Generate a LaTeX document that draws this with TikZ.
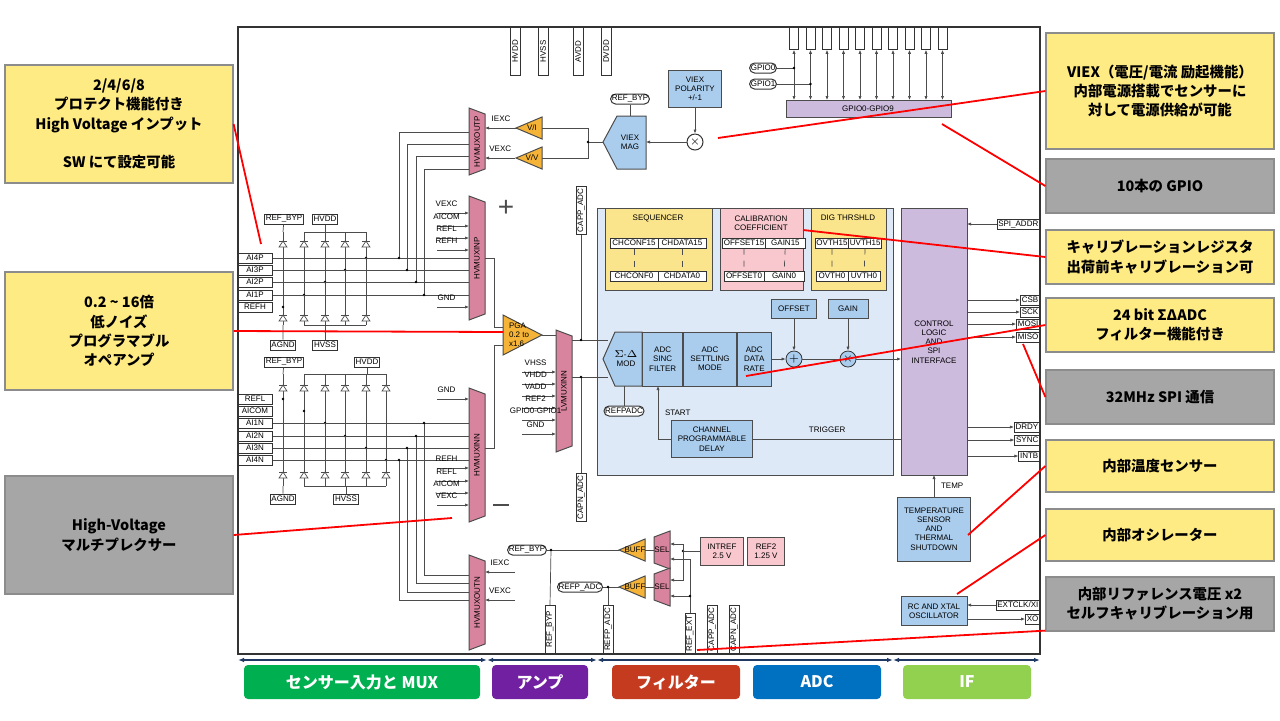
\documentclass[tikz,border=0pt]{standalone}
\usepackage{fontspec}
\setmainfont{Liberation Sans}
\newfontfamily\cjk{Noto Sans CJK JP}
\usetikzlibrary{positioning,arrows.meta}
\definecolor{muxpink}{RGB}{217,132,158}
\definecolor{ampgold}{RGB}{245,180,55}
\definecolor{blkblue}{RGB}{170,205,238}
\definecolor{adcbg}{RGB}{222,233,247}
\definecolor{seqyel}{RGB}{250,228,140}
\definecolor{calpink}{RGB}{248,200,206}
\definecolor{lav}{RGB}{205,187,222}
\definecolor{callyel}{RGB}{255,235,132}
\definecolor{callgray}{RGB}{166,166,166}
\definecolor{navy}{RGB}{31,56,100}
\tikzset{
  every node/.style={font=\fontsize{4}{4.6}\selectfont},
  wire/.style={draw=black!70,line width=0.35pt},
  sig/.style={wire,-{Latex[length=2pt,width=1.6pt]}},
  bisig/.style={wire,{Latex[length=2pt,width=1.6pt]}-{Latex[length=2pt,width=1.6pt]}},
  pin/.style={draw=black!80,fill=white,line width=0.5pt,minimum height=5pt,inner sep=0.6pt},
  vpin/.style={pin,rotate=90,minimum width=24pt},
  pill/.style={pin,rounded corners=2.5pt},
  blk/.style={draw=black!70,fill=blkblue,align=center,line width=0.5pt},
  mux/.style={draw=black!70,fill=muxpink,line width=0.5pt},
  amp/.style={draw=black!70,fill=ampgold,line width=0.5pt},
  muxlbl/.style={rotate=90},
  dot/.style={circle,fill=black,inner sep=0pt,minimum size=1.4pt},
  callout/.style={draw=black!45,line width=0.6pt,align=center,minimum width=114pt,
    font=\cjk\bfseries\fontsize{7.2}{9.6}\selectfont},
  redline/.style={draw=red,line width=0.9pt},
  tag/.style={rounded corners=2pt,minimum height=17pt,text=white,font=\cjk\bfseries\fontsize{8}{9}\selectfont},
  span/.style={draw=navy,line width=1pt,{Latex[length=3pt]}-{Latex[length=3pt]}}
}
% mux trapezoid: name, x, top, bottom, label
\newcommand\muxbox[5]{\draw[mux] (#2,#3) -- (#2+16,#3+6) -- (#2+16,#4-6) -- (#2,#4) -- cycle;
  \node[muxlbl] (#1) at (#2+8,{(#3+#4)/2}) {#5};}
% amplifier pointing left: name, tip x, y, label
\newcommand\ampl[4]{\draw[amp] (#2,#3) -- (#2+26,#3-11) -- (#2+26,#3+11) -- cycle;
  \node (#1) at (#2+16,#3) {#4};}
% diode pointing up
\newcommand\diode[2]{\draw[wire,fill=white] (#1-4,#2+3) -- (#1+4,#2+3) -- (#1,#2-3) -- cycle;
  \draw[wire] (#1-4,#2-3) -- (#1+4,#2-3);}
\begin{document}
\begin{tikzpicture}[x=0.5pt,y=-0.5pt]
  \useasboundingbox (0,0) rectangle (1280,720);
  \fill[white] (0,0) rectangle (1280,720);
  \draw[black!80,line width=0.6pt] (238,27) rectangle (1040,654);

  % supply pins
  \foreach \nm/\x in {HVDD/515,HVSS/543,AVDD/578,DVDD/606}
    \node[vpin,anchor=east] (p\nm) at (\x,27) {\nm};

  % left inputs
  \foreach \nm/\y in {AI4P/258,AI3P/270,AI2P/282,AI1P/295,REFH/307,REFL/399,AICOM/411,AI1N/423,AI2N/436,AI3N/448,AI4N/460}
    \node[pin,minimum width=17pt] (in\nm) at (255,\y) {\nm};

  % protection diodes, positive side
  \node[pin] (bypP) at (284,219) {REF\_BYP};
  \node[pin] (hvddP) at (325,219) {HVDD};
  \node[pin] (agndP) at (283,345) {AGND};
  \node[pin] (hvssP) at (325,345) {HVSS};
  \draw[wire] (304,232) -- (366,232) (304,325) -- (366,325) (hvddP) -- (325,232) (hvssP) -- (325,325);
  \foreach \x in {283,304,325,345,366} {
    \draw[wire] (\x,232) -- (\x,325); \diode{\x}{244} \diode{\x}{318} }
  \draw[wire] (bypP) -- (283,232) (agndP) -- (283,325);
  \foreach \x/\y in {283/307,304/295,325/282,345/270,366/258} \node[dot] at (\x,\y) {};

  % protection diodes, negative side
  \node[pin] (bypN) at (284,362) {REF\_BYP};
  \node[pin] (hvddN) at (367,362) {HVDD};
  \node[pin] (agndN) at (283,499) {AGND};
  \node[pin] (hvssN) at (346,499) {HVSS};
  \draw[wire] (304,374) -- (386,374) (304,486) -- (386,486) (hvddN) -- (367,374) (hvssN) -- (346,486);
  \foreach \x in {283,304,325,345,366,386} {
    \draw[wire] (\x,374) -- (\x,486); \diode{\x}{388} \diode{\x}{475} }
  \draw[wire] (bypN) -- (283,374) (agndN) -- (283,486);
  \foreach \x/\y in {283/399,304/411,325/423,345/436,366/448,386/460} \node[dot] at (\x,\y) {};

  % muxes
  \muxbox{moutp}{469}{108}{175}{HVMUXOUTP}
  \muxbox{minp}{469}{196}{320}{HVMUXINP}
  \muxbox{minn}{469}{388}{522}{HVMUXINN}
  \muxbox{moutn}{469}{555}{650}{HVMUXOUTN}
  \muxbox{lvmux}{556}{330}{452}{LVMUXINN}
  \node[font=\fontsize{14}{14}\selectfont,text=black!70] (plus) at (506,208) {+};
  \draw[black!70,line width=1.2pt] (493,505) -- (509,505);

  % analog inputs to muxes
  \foreach \nm/\y/\x in {AI4P/258/399,AI3P/270/407,AI2P/282/416,AI1P/295/424} {
    \draw[wire] (in\nm) -- (469,\y);
    \draw[wire] (\x,\y) |- (469,\y-126); \node[dot] at (\x,\y) {}; }
  \foreach \nm/\y/\x/\t in {AI1N/423/424/575,AI2N/436/416/583,AI3N/448/407/592,AI4N/460/399/600} {
    \draw[wire] (in\nm) -- (469,\y);
    \draw[wire] (\x,\y) |- (469,\t); \node[dot] at (\x,\y) {}; }
  \foreach \t/\y in {VEXC/213,AICOM/226,REFL/238,REFH/250,GND/307}
    \draw[sig] (437,\y) -- node[above=-0.5pt,pos=0.3] {\t} (469,\y);
  \foreach \t/\y in {GND/399,REFH/468,REFL/481,AICOM/493,VEXC/505}
    \draw[sig] (437,\y) -- node[above=-0.5pt,pos=0.3] {\t} (469,\y);

  % excitation
  \ampl{vi}{516}{128}{V/I}
  \ampl{vv}{516}{158}{V/V}
  \draw[sig] (vi.west) ++(-3,0) -- node[above=-0.5pt] {IEXC} (485,128);
  \draw[sig] (vv.west) ++(-3,0) -- node[above=-0.5pt] {VEXC} (485,158);
  \draw[wire] (542,128) -| (588,158) -- (542,158);
  \draw[blk] (646,116) -- (646,169) -- (617,169) -- (603,142) -- (617,116) -- cycle;
  \node[align=center] (viexmag) at (630,142) {VIEX\\MAG};
  \draw[wire] (588,142) -- (603,142); \node[dot] at (588,142) {};
  \node[blk,minimum width=24pt,minimum height=15pt] (viexpol) at (695,89) {VIEX\\POLARITY\\+/-1};
  \node[draw=black!80,circle,minimum size=8pt,inner sep=0pt,line width=0.5pt] (vmul) at (695,142) {$\times$};
  \node[pill] (bypV) at (630,99) {REF\_BYP};
  \draw[sig] (viexpol) -- (vmul);
  \draw[sig] (vmul) -- (646,142);
  \draw[wire] (bypV) -- (630,116);
  \draw[sig] (515,572) -- node[above=-0.5pt] {IEXC} (485,572);
  \draw[sig] (515,600) -- node[above=-0.5pt] {VEXC} (485,600);

  % PGA and LV mux
  \draw[amp] (503,315) -- (542,335) -- (503,355) -- cycle;
  \node[align=left,anchor=west] (pga) at (502,335) {PGA\\0.2 to\\x1.6};
  \draw[wire] (485,258) -- (494,258) |- (503,327);
  \draw[wire] (485,448) -- (494,448) |- (503,345);
  \draw[wire] (542,335) -- (556,335);
  \foreach \t/\y in {VHSS/372,VHDD/384,VADD/396,REF2/408,GPIO0-GPIO1/420,GND/434}
    \draw[sig] (522,\y) -- node[above=-0.5pt,pos=0.4] {\t} (556,\y);
  \node[vpin,anchor=east] (cappT) at (581,186) {CAPP\_ADC};
  \node[vpin,anchor=west] (capnT) at (581,522) {CAPN\_ADC};

  % ADC region
  \fill[adcbg] (597,208) rectangle (893,475); \draw[black!70,line width=0.5pt] (597,208) rectangle (893,475);
  \draw[black!70,fill=seqyel,line width=0.5pt] (605,208) rectangle (712,290);
  \draw[black!70,fill=calpink,line width=0.5pt] (720,208) rectangle (803,290);
  \draw[black!70,fill=seqyel,line width=0.5pt] (811,208) rectangle (886,290);
  \node (seq) at (658,218) {SEQUENCER};
  \node[align=center] (calib) at (761,223) {CALIBRATION\\COEFFICIENT};
  \node (dig) at (848,218) {DIG THRSHLD};
  \foreach \a/\b/\xa/\xb/\w in {CHCONF/CHDATA/634/683/24, OFFSET/GAIN/744/781/20, OVTH/UVTH/832/864/16} {
    \node[pin,minimum width=\w pt] (\a15) at (\xa,243) {\a15};
    \node[pin,minimum width=\w pt,right=-0.5pt of \a15] (\b15) {\b15};
    \node[pin,minimum width=\w pt] (\a0) at (\xa,276) {\a0};
    \node[pin,minimum width=\w pt,right=-0.5pt of \a0] (\b0) {\b0};
    \draw[wire,dashed] (\a15) -- (\a0) (\b15) -- (\b0); }

  \draw[blk] (642,332) -- (642,386) -- (615,386) -- (603,359) -- (615,332) -- cycle;
  \node[align=center] (sdmod) at (626,359) {$\Sigma$-$\Delta$\\MOD};
  \node[blk,minimum width=16.5pt,minimum height=27pt,right=0pt of sdmod.center,xshift=8pt] (sinc) {ADC\\SINC\\FILTER};
  \node[blk,minimum width=20.5pt,minimum height=27pt,right=0pt of sinc] (settle) {ADC\\SETTLING\\MODE};
  \node[blk,minimum width=16.5pt,minimum height=27pt,right=0pt of settle] (rate) {ADC\\DATA\\RATE};
  \node[blk,minimum width=20pt] (offset) at (794,309) {OFFSET};
  \node[blk,minimum width=20pt] (gain) at (848,309) {GAIN};
  \node[draw=black!80,fill=blkblue,circle,minimum size=8pt,inner sep=0pt] (sum) at (794,359) {$+$};
  \node[draw=black!80,fill=blkblue,circle,minimum size=8pt,inner sep=0pt] (mul) at (848,359) {$\times$};
  \node[pill] (refpadc) at (624,411) {REFPADC};
  \node[blk,minimum width=37pt,minimum height=16pt] (delay) at (712,439) {CHANNEL\\PROGRAMMABLE\\DELAY};
  \draw[wire] (572,340) -- (608,340) (572,377) -- (608,377);
  \draw[wire] (cappT.west) -- (581,340); \node[dot] at (581,340) {};
  \draw[wire] (capnT.east) -- (581,377); \node[dot] at (581,377) {};
  \draw[sig] (rate) -- (sum); \draw[sig] (offset) -- (sum); \draw[sig] (gain) -- (mul);
  \draw[wire] (sum) -- (mul);
  \draw[wire] (refpadc) -- (624,386);
  \draw[sig] (delay.west) -| node[right,pos=0.75] {START} (658,386);

  % control logic and pins
  \draw[black!70,fill=lav,line width=0.5pt] (901,208) rectangle (967,475);
  \node[align=center] (ctrl) at (934,342) {CONTROL\\LOGIC\\AND\\SPI\\INTERFACE};
  \draw[sig] (mul) -- (901,359);
  \draw[wire] (delay.east) -- node[above=-0.5pt] {TRIGGER} (901,439);
  \node[pin,anchor=east] (spiaddr) at (1040,224) {SPI\_ADDR};
  \draw[sig] (spiaddr) -- (967,224);
  \foreach \nm/\y/\s in {CSB/300/in,SCK/312/in,MOSI/324/in,MISO/337/out,DRDY/427/out,SYNC/440/in,INTB/456/out} {
    \node[pin,anchor=east] (p\nm) at (1040,\y) {\nm};
    \if\s in \draw[sig] (p\nm) -- (967,\y); \else \draw[sig] (967,\y) -- (p\nm); \fi }
  \node[blk,minimum width=33pt,minimum height=32pt] (temp) at (934,529) {TEMPERATURE\\SENSOR\\AND\\THERMAL\\SHUTDOWN};
  \draw[sig] (temp) -- node[right] {TEMP} (934,475);
  \node[blk,minimum width=33pt,minimum height=13pt] (osc) at (934,611) {RC AND XTAL\\OSCILLATOR};
  \node[pin,anchor=east] (extclk) at (1040,605) {EXTCLK/XI};
  \node[pin,anchor=east] (xo) at (1040,619) {XO};
  \draw[sig] (extclk) -- (967,605); \draw[sig] (967,619) -- (xo);

  % GPIO
  \draw[black!70,fill=lav,line width=0.5pt] (786,100) rectangle (951,117);
  \node (gpiobus) at (868,109) {GPIO0-GPIO9};
  \foreach \i in {0,...,9} {
    \node[draw=black!80,fill=white,minimum width=4.5pt,minimum height=11pt,inner sep=0pt,anchor=north] (g\i) at (794+16.5*\i,27) {};
    \draw[bisig] (g\i.south) -- (794+16.5*\i,100); }
  \node[pill] (gp0) at (763,68) {GPIO0};
  \node[pill] (gp1) at (763,84) {GPIO1};
  \draw[wire] (gp0) -- (794,68); \node[dot] at (794,68) {};
  \draw[wire] (gp1) -- (810.5,84); \node[dot] at (810.5,84) {};

  % references
  \node[pill] (bypR) at (527,550) {REF\_BYP};
  \node[pill] (refpR) at (580,587) {REFP\_ADC};
  \ampl{buf1}{619}{550}{BUFF}
  \ampl{buf2}{619}{587}{BUFF}
  \draw[mux] (654,537) -- (670,531) -- (670,569) -- (654,563) -- cycle; \node (sel1) at (662,550) {SEL};
  \draw[mux] (654,574) -- (670,568) -- (670,606) -- (654,600) -- cycle; \node (sel2) at (662,587) {SEL};
  \draw[wire] (bypR) -- (619,550) (645,550) -- (654,550) (refpR) -- (619,587) (645,587) -- (654,587);
  \node[draw=black!70,fill=calpink,align=center,minimum width=18pt,minimum height=10pt] (intref) at (722,551) {INTREF\\2.5 V};
  \node[draw=black!70,fill=calpink,align=center,minimum width=18pt,minimum height=10pt] (ref2) at (766,551) {REF2\\1.25 V};
  \node[vpin,anchor=west] (pBYP) at (550,654) {REF\_BYP};
  \node[vpin,anchor=west] (pREFP) at (608,654) {REFP\_ADC};
  \node[vpin,anchor=west,minimum width=20pt] (pEXT) at (690,654) {REF\_EXT};
  \node[vpin,anchor=west] (pCAPP) at (712,654) {CAPP\_ADC};
  \node[vpin,anchor=west] (pCAPN) at (734,654) {CAPN\_ADC};
  \draw[wire] (551,550) -- (pBYP.east); \node[dot] at (551,550) {};
  \draw[wire] (608,587) -- (pREFP.east); \node[dot] at (608,587) {};
  \draw[wire] (intref) -- (683,551); \node[dot] at (683,551) {};
  \draw[sig] (683,551) |- (670,544); \draw[sig] (683,551) |- (670,580);
  \draw[wire] (pEXT.east) -- (690,559);
  \draw[sig] (690,559) -- (670,559); \draw[sig] (690,596) -- (670,596); \node[dot] at (690,596) {};

  % bottom spans and tags
  \foreach \a/\b in {238/487,487/597,597/893,893/1040} \draw[span] (\a,660) -- (\b,660);
  \node[tag,fill={rgb,255:red,0;green,176;blue,80},minimum width=118pt] (tSens) at (362,682) {センサー入力と MUX};
  \node[tag,fill={rgb,255:red,112;green,32;blue,160},minimum width=48pt] (tAmp) at (540,682) {アンプ};
  \node[tag,fill={rgb,255:red,196;green,59;blue,31},minimum width=64pt] (tFilt) at (676,682) {フィルター};
  \node[tag,fill={rgb,255:red,0;green,112;blue,192},minimum width=64pt] (tADC) at (817,682) {ADC};
  \node[tag,fill={rgb,255:red,146;green,208;blue,80},minimum width=64pt] (tIF) at (967,682) {IF};

  % callouts
  \node[callout,fill=callyel,minimum height=59pt] (cInput) at (119,124) {2/4/6/8\\プロテクト機能付き\\High Voltage インプット\\[9.6pt]SW にて設定可能};
  \node[callout,fill=callyel,minimum height=59pt] (cPGA) at (119,331) {0.2 \textasciitilde{} 16倍\\低ノイズ\\プログラマブル\\オペアンプ};
  \node[callout,fill=callgray,minimum height=59pt] (cMux) at (119,535) {High-Voltage\\マルチプレクサー};
  \node[callout,fill=callyel,minimum height=58pt] (cViex) at (1160,91) {VIEX（電圧/電流 励起機能）\\内部電源搭載でセンサーに\\対して電源供給が可能};
  \node[callout,fill=callgray,minimum height=27pt] (cGpio) at (1160,186) {10本の GPIO};
  \node[callout,fill=callyel,minimum height=27pt] (cCal) at (1160,257) {キャリブレーションレジスタ\\出荷前キャリブレーション可};
  \node[callout,fill=callyel,minimum height=27pt] (cAdc) at (1160,325) {24 bit ΣΔADC\\フィルター機能付き};
  \node[callout,fill=callgray,minimum height=27pt] (cSpi) at (1160,397) {32MHz SPI 通信};
  \node[callout,fill=callyel,minimum height=26pt] (cTemp) at (1160,466) {内部温度センサー};
  \node[callout,fill=callyel,minimum height=26pt] (cOsc) at (1160,535) {内部オシレーター};
  \node[callout,fill=callgray,minimum height=27pt] (cRef) at (1160,604) {内部リファレンス電圧 x2\\セルフキャリブレーション用};

  \coordinate (eInput) at (261,244); \coordinate (ePGA) at (503,332);
  \coordinate (eMux) at (452,518); \coordinate (eViex) at (718,138);
  \coordinate (eGpio) at (942,124); \coordinate (eCal) at (803,230);
  \coordinate (eAdc) at (746,376); \coordinate (eSpi) at (1023,344);
  \coordinate (eTemp) at (968,535); \coordinate (eOsc) at (957,594);
  \coordinate (eRef) at (697,650);
  \draw[redline] (cInput.east) -- (eInput);
  \draw[redline] (cPGA.east) -- (ePGA);
  \draw[redline] (cMux.east) -- (eMux);
  \draw[redline] (cViex.west) -- (eViex);
  \draw[redline] (cGpio.west) -- (eGpio);
  \draw[redline] (cCal.west) -- (eCal);
  \draw[redline] (cAdc.west) -- (eAdc);
  \draw[redline] (cSpi.west) -- (eSpi);
  \draw[redline] (cTemp.west) -- (eTemp);
  \draw[redline] (cOsc.west) -- (eOsc);
  \draw[redline] (cRef.south west) ++(0,-1) -- (eRef);
\end{tikzpicture}
\end{document}
